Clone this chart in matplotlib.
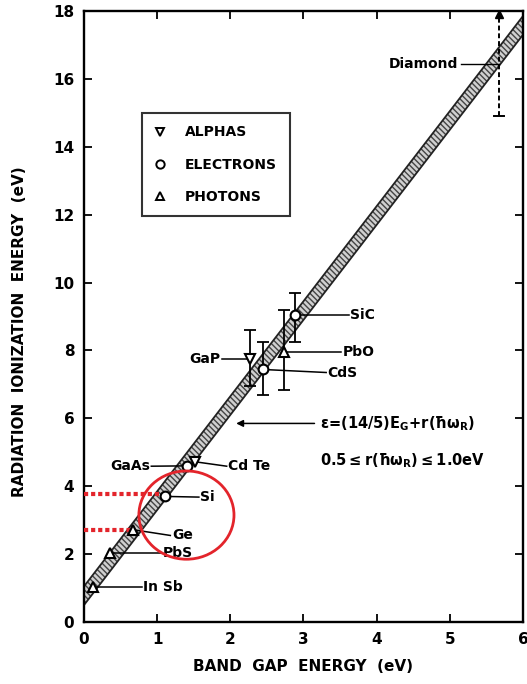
import matplotlib
matplotlib.use("Agg")
import matplotlib.pyplot as plt
from matplotlib.patches import Ellipse
from matplotlib.lines import Line2D
import numpy as np

# ---------------- data ----------------
materials = ['In Sb', 'PbS', 'Ge', 'Si', 'GaAs', 'Cd Te', 'GaP', 'CdS', 'PbO', 'SiC']
band_gap = [0.12, 0.36, 0.67, 1.11, 1.41, 1.52, 2.27, 2.44, 2.73, 2.89]
ionization = [1.03, 2.03, 2.72, 3.70, 4.60, 4.72, 7.74, 7.44, 7.94, 9.03]
particle = ['photons', 'photons', 'photons', 'electrons', 'electrons', 'alphas',
            'alphas', 'electrons', 'photons', 'electrons']
err_low = [0, 0, 0, 0, 0, 0, 6.94, 6.68, 6.82, 8.24]
err_high = [0, 0, 0, 0, 0, 0, 8.59, 8.24, 9.18, 9.68]
label_x = [0.81, 1.07, 1.20, 1.59, 0.90, 1.97, 1.86, 3.33, 3.53, 3.64]
label_y = [1.03, 2.03, 2.55, 3.68, 4.59, 4.59, 7.74, 7.35, 7.94, 9.03]
label_side = ['right', 'right', 'right', 'right', 'left', 'right', 'left', 'right', 'right', 'right']

diamond_gap = 5.67
diamond_low = 14.9
diamond_high = 17.9
diamond_label = ('Diamond', 5.11, 16.44)

slope = 14 / 5
r_low, r_high = 0.5, 1.05

legend_names = ['ALPHAS', 'ELECTRONS', 'PHOTONS']
legend_markers = {'alphas': 'v', 'electrons': 'o', 'photons': '^'}

red_lines_y = [3.76, 2.72]
red_lines_x = [1.11, 0.67]
circle_center = (1.40, 3.15)
circle_size = (1.30, 2.60)

x_ticks = [0, 1, 2, 3, 4, 5, 6]
y_ticks = [0, 2, 4, 6, 8, 10, 12, 14, 16, 18]

# ---------------- figure ----------------
plt.rcParams['font.family'] = ['DejaVu Sans']
plt.rcParams['font.weight'] = 'bold'
plt.rcParams['mathtext.fontset'] = 'dejavusans'
plt.rcParams['mathtext.default'] = 'bf'
plt.rcParams['hatch.linewidth'] = 1.0

fig = plt.figure(figsize=(5.27, 6.84), dpi=100)
ax = fig.add_axes([0.1594, 0.0906, 0.8330, 0.8934])
ax.set_xlim(0, 6)
ax.set_ylim(0, 18)

FS = 10
ax.tick_params(direction='in', length=6, width=1.3, top=True, right=True,
               labelsize=11, pad=7)
ax.set_xticks(x_ticks)
ax.set_yticks(y_ticks)
for lab in ax.get_xticklabels() + ax.get_yticklabels():
    lab.set_fontweight('bold')
for s in ax.spines.values():
    s.set_linewidth(1.7)

# band
xb = np.linspace(0, 6.3, 50)
ax.fill_between(xb, slope * xb + r_low, slope * xb + r_high, facecolor='#d0d0d0',
                edgecolor='#444444', hatch='\\\\\\\\\\\\', linewidth=0, zorder=2)
ax.plot(xb, slope * xb + r_low, color='#222222', lw=1.3, zorder=2)
ax.plot(xb, slope * xb + r_high, color='#222222', lw=1.3, zorder=2)

# data points with leaders
for name, x, y, p, lo, hi, lx, ly, side in zip(materials, band_gap, ionization, particle,
                                                err_low, err_high, label_x, label_y, label_side):
    if hi > 0:
        ax.errorbar([x], [y], yerr=[[y - lo], [hi - y]], fmt='none', ecolor='black',
                    elinewidth=1.3, capsize=4, capthick=1.3, zorder=4)
    ax.plot([x, lx - 0.02 if side == 'right' else lx + 0.02], [y, ly], color='black',
            lw=1.1, zorder=3)
    ax.plot([x], [y], marker=legend_markers[p], ms=7, mfc='white', mec='black',
            mew=1.5, ls='none', zorder=5)
    ax.text(lx, ly, name, ha='left' if side == 'right' else 'right', va='center',
            fontsize=FS, fontweight='bold', zorder=6)

# diamond
ax.plot([diamond_gap, diamond_gap], [diamond_low, diamond_high], color='black',
        ls=(0, (2.5, 1.5)), lw=1.4, zorder=4)
ax.plot([diamond_gap - 0.07, diamond_gap + 0.07], [diamond_low, diamond_low],
        color='black', lw=1.4, zorder=4)
ax.plot([diamond_gap], [diamond_high], marker='^', ms=6, color='black', zorder=4)
ax.plot([diamond_label[1] + 0.04, diamond_gap], [diamond_label[2], diamond_label[2]],
        color='black', lw=1.0, zorder=4)
ax.text(diamond_label[1], diamond_label[2], diamond_label[0], ha='right', va='center',
        fontsize=FS, fontweight='bold')

# formula
ax.annotate('', xy=(2.08, 5.85), xytext=(3.15, 5.85),
            arrowprops=dict(arrowstyle='-|>', lw=1.1, color='black', mutation_scale=10,
                            shrinkA=0, shrinkB=0), zorder=6)
ax.text(3.23, 5.85, r'$\epsilon$=(14/5)E$_G$+r($\hbar\omega_R$)', ha='left', va='center',
        fontsize=10.5, fontweight='bold')
ax.text(3.23, 4.76, r'0.5$\leq$r($\hbar\omega_R$)$\leq$1.0eV', ha='left', va='center',
        fontsize=10.5, fontweight='bold')

# red highlights
red = '#e3242b'
for yv, xv in zip(red_lines_y, red_lines_x):
    ax.plot([0, xv], [yv, yv], color=red, lw=3, ls=(0, (1, 0.7)), zorder=3)
ax.add_patch(Ellipse(circle_center, circle_size[0], circle_size[1], fill=False,
                     edgecolor=red, lw=2, zorder=7))

# legend
handles = [Line2D([], [], marker=legend_markers[k], ls='none', ms=6, mfc='white',
                  mec='black', mew=1.4) for k in ['alphas', 'electrons', 'photons']]
leg = ax.legend(handles, legend_names, loc='upper left', bbox_to_anchor=(0.132, 0.833),
                prop={'size': FS, 'weight': 'bold'}, frameon=True, fancybox=False,
                edgecolor='black', labelspacing=1.3, borderpad=0.9, handlelength=0.8,
                handletextpad=1.4, borderaxespad=0)
leg.get_frame().set_linewidth(1.5)

ax.set_xlabel('BAND  GAP  ENERGY  (eV)', fontsize=11, fontweight='bold', labelpad=9)
ax.set_ylabel('RADIATION  IONIZATION  ENERGY  (eV)', fontsize=11, fontweight='bold')
ax.yaxis.set_label_coords(-0.13, 0.475)

fig.savefig('out.png', dpi=100)
